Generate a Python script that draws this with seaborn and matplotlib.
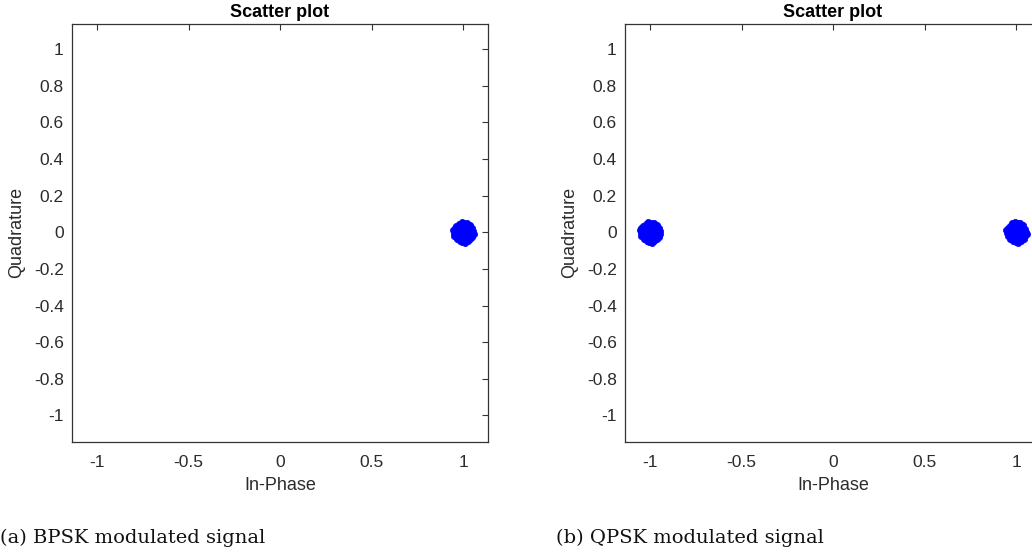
import numpy as np
import pandas as pd
import matplotlib
matplotlib.use("Agg")
import matplotlib.pyplot as plt
import seaborn as sns

# ---- data ----
# symbol offsets around each constellation point (noise cloud), hand-read
dx = [0, 0.03, -0.03, 0, 0, 0.021, -0.021, 0.021, -0.021,
      0.052, -0.05, 0.004, -0.006, 0.037, -0.039, 0.036, -0.035,
      0.048, 0.046, -0.047, -0.049, 0.02, -0.023, 0.024, -0.019,
      0.012, -0.013, 0.01, -0.012, 0.056, -0.055, 0.008, -0.01]
dy = [0, 0, 0, 0.03, -0.03, 0.021, 0.021, -0.021, -0.021,
      0.005, -0.004, 0.053, -0.051, 0.038, 0.035, -0.037, -0.039,
      0.022, -0.024, 0.021, -0.02, 0.049, 0.047, -0.048, -0.05,
      0.012, 0.01, -0.014, -0.011, -0.01, 0.012, -0.057, 0.056]
bpsk_points = [1.0]
qpsk_points = [-1.0, 1.0]
ticks_x = [-1, -0.5, 0, 0.5, 1]
ticks_y = [-1, -0.8, -0.6, -0.4, -0.2, 0, 0.2, 0.4, 0.6, 0.8, 1]
captions = ["(a) BPSK modulated signal", "(b) QPSK modulated signal"]

def cloud(points):
    xs, ys = [], []
    for k, p in enumerate(points):
        sgn = 1 if k % 2 == 0 else -1
        xs += [p + sgn * v for v in dx]
        ys += [sgn * v for v in dy]
    return pd.DataFrame({"I": xs, "Q": ys})

sns.set_style("white")
plt.rcParams["font.family"] = ["Liberation Sans", "DejaVu Sans"]
axcol = "#333333"
txtcol = "#2b2b2b"

fig = plt.figure(figsize=(10.32, 5.58), dpi=100)
w = 416 / 1032
h = (441.5 - 24) / 558
bottom = 1 - 441.5 / 558
ax1 = fig.add_axes([72 / 1032, bottom, w, h])
ax2 = fig.add_axes([625 / 1032, bottom, w, h])

for ax, pts, cap, capx in [(ax1, bpsk_points, captions[0], 0 / 1032),
                           (ax2, qpsk_points, captions[1], 556 / 1032)]:
    sns.scatterplot(data=cloud(pts), x="I", y="Q", ax=ax, color="#0000FF",
                    edgecolor="#0000FF", s=20, marker="o", linewidth=0.5)
    ax.set_xlim(-1.137, 1.134)
    ax.set_ylim(-1.142, 1.137)
    ax.set_xticks(ticks_x)
    ax.set_xticklabels([f"{t:g}" for t in ticks_x])
    ax.set_yticks(ticks_y)
    ax.set_yticklabels([f"{t:g}" for t in ticks_y])
    ax.tick_params(direction="in", length=4, width=0.8, colors=axcol,
                   labelcolor=txtcol, labelsize=12.5, top=True, right=True)
    ax.tick_params(axis="x", pad=10)
    ax.tick_params(axis="y", pad=6)
    for sp in ax.spines.values():
        sp.set_visible(True)
        sp.set_color(axcol)
        sp.set_linewidth(0.9)
    ax.set_xlabel("In-Phase", fontsize=13, color=txtcol, labelpad=5)
    ax.set_ylabel("Quadrature", fontsize=13, color=txtcol, labelpad=6)
    ax.set_title("Scatter plot", fontsize=13, fontweight="bold", color="black", pad=5)
    fig.text(capx, 1 - 538 / 558, cap, fontsize=14, family="DejaVu Serif",
             va="center", ha="left", color="#111111")

fig.savefig("out.png", dpi=100)
